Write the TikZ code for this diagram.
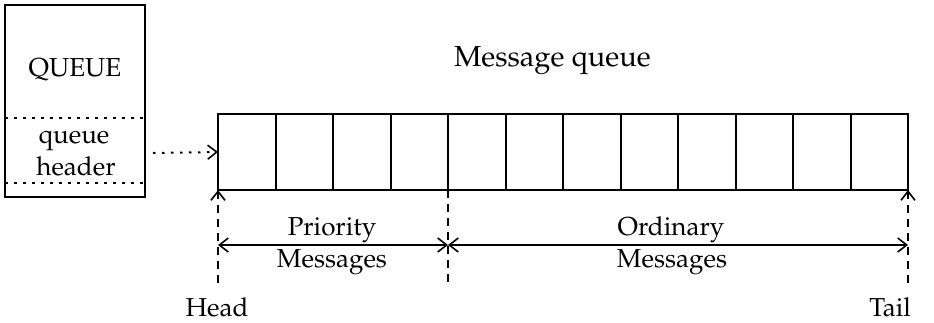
\documentclass[tikz,border=0pt]{standalone}
\usepackage[T1]{fontenc}
\usepackage{mathpazo}
\usetikzlibrary{arrows.meta}
\begin{document}
\begin{tikzpicture}[x=1pt,y=-1pt,line width=2pt,
  cell/.style={draw,minimum height=76pt,inner sep=0pt,outer sep=0pt},
  lbl/.style={font=\fontsize{26}{30}\selectfont,inner sep=0pt},
  ttl/.style={font=\fontsize{29}{34}\selectfont,inner sep=0pt},
  dashline/.style={dash pattern=on 8pt off 6pt},
  dotline/.style={dash pattern=on 2.5pt off 6.5pt},
  barb/.tip={Straight Barb[length=9pt,width=14pt,line width=1.6pt]}]
\useasboundingbox (0,0) rectangle (934,322);
% left QUEUE box
\node[draw,minimum width=140pt,minimum height=192pt,inner sep=0pt,outer sep=0pt] (qbox) at (75,101) {};
\coordinate (d1l) at (5,118); \coordinate (d1r) at (145,118);
\coordinate (d2l) at (5,183); \coordinate (d2r) at (145,183);
\draw[dotline] (d1l) -- (d1r);
\draw[dotline] (d2l) -- (d2r);
\node[lbl,anchor=base] (qtxt) at (75,76) {QUEUE};
\node[lbl,anchor=base] (qh1) at (74,143) {queue};
\node[lbl,anchor=base] (qh2) at (76,175) {header};
% title
\node[ttl,anchor=base west] (title) at (453,66) {Message queue};
% cells
\foreach \i in {1,...,12}{
  \pgfmathsetmacro{\xl}{round(218+57.5*(\i-1))}
  \pgfmathsetmacro{\xr}{round(218+57.5*\i)}
  \node[cell,minimum width={(\xr-\xl)*1pt}] (c\i) at ({(\xl+\xr)/2},152) {};
}
% pointer
\coordinate (ptr) at (153,153);
\draw[dotline,-barb] (ptr) -- (c1.west);
% head / tail / divider
\coordinate (hb) at (218,283);
\coordinate (mb) at (448,283);
\coordinate (tb) at (908,283);
\draw[dashline,-barb] (hb) -- (c1.south west);
\draw[dashline] (c4.south east) -- (mb);
\draw[dashline,-barb] (tb) -- (c12.south east);
% extent arrows
\coordinate (pa) at (218,245);
\coordinate (pb) at (448,245);
\coordinate (pc) at (908,245);
\draw[barb-barb] (pa) -- (pb);
\draw[barb-barb] (pb) -- (pc);
\node[lbl,anchor=base] (pr1) at (332,235) {Priority};
\node[lbl,anchor=base] (pr2) at (332,267) {Messages};
\node[lbl,anchor=base] (or1) at (671,235) {Ordinary};
\node[lbl,anchor=base] (or2) at (672,267) {Messages};
\node[lbl,anchor=base] (head) at (217,316) {Head};
\node[lbl,anchor=base east] (tail) at (912,316) {Tail};
\end{tikzpicture}
\end{document}
